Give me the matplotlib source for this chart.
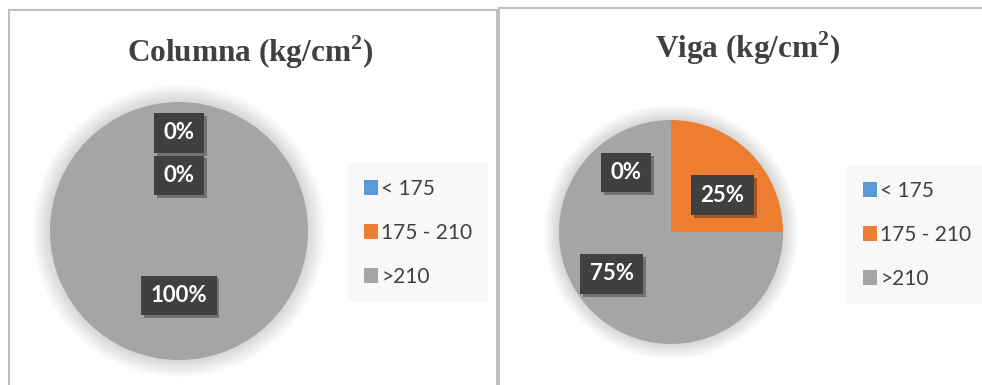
import matplotlib.pyplot as plt
from matplotlib.patches import Patch, Circle
from matplotlib.lines import Line2D
import matplotlib.patheffects as pe

plt.rcParams["mathtext.fontset"] = "custom"
plt.rcParams["mathtext.rm"] = "Liberation Serif:bold"

categories = ["< 175", "175 - 210", ">210"]
columna = [0, 0, 100]
viga = [0, 25, 75]
colors = ["#5B9BD5", "#ED7D31", "#A5A5A5"]
titles = [r"Columna (kg/cm$^2$)", r"Viga (kg/cm$^2$)"]

W, H = 982, 385
fig = plt.figure(figsize=(W / 100, H / 100), dpi=100)
fig.patch.set_facecolor("white")


def px_axes(cx, cy, r):
    # axes in pixel coords (top-left origin), square around pie
    return fig.add_axes([(cx - r) / W, 1 - (cy + r) / H, 2 * r / W, 2 * r / H])


def draw_pie(ax, values, label_pos):
    # soft shadow around the pie
    n = 20
    for i in range(n):
        ax.add_patch(Circle((0, 0), 1.0 + 0.007 * (n - i), color="black",
                            alpha=0.006, lw=0, clip_on=False, zorder=0))
    wedges, _ = ax.pie(values, colors=colors, startangle=90, counterclock=False,
                       radius=1, wedgeprops=dict(lw=0))
    for w in wedges:
        w.set_zorder(1)
    ax.set_xlim(-1, 1)
    ax.set_ylim(-1, 1)
    ax.set_aspect("equal")
    ax.axis("off")
    for v, (x, y) in zip(values, label_pos):
        t = ax.text(x, y, f"{v}%", ha="center", va="center", color="white",
                    fontsize=16, fontweight="bold", family="Lato", zorder=5,
                    bbox=dict(boxstyle="square,pad=0.42", fc="#404040", ec="none"))
        t.get_bbox_patch().set_path_effects(
            [pe.SimplePatchShadow(offset=(2, -2), alpha=0.35), pe.Normal()])


def draw_legend(x, y):
    handles = [Patch(facecolor=c, edgecolor="none") for c in colors]
    leg = fig.legend(handles, categories, loc="upper left",
                     bbox_to_anchor=(x / W, 1 - y / H), frameon=True,
                     fancybox=False, facecolor="#F8F8F8", edgecolor="none",
                     framealpha=1, handlelength=0.7, handleheight=0.7,
                     handletextpad=0.15, labelspacing=1.15, borderpad=0.75,
                     borderaxespad=0,
                     prop=dict(family="Lato", size=15), labelcolor="#404040")
    return leg


# panel borders
fig.add_artist(Line2D([9 / W, 9 / W], [0, 1 - 10 / H], color="#C0C0C0", lw=1.5))
fig.add_artist(Line2D([9 / W, 497 / W], [1 - 10 / H, 1 - 10 / H], color="#C0C0C0", lw=1.5))
fig.add_artist(Line2D([497 / W, 497 / W], [0, 1 - 10 / H], color="#C0C0C0", lw=1.5))
fig.add_artist(Line2D([499 / W, 499 / W], [0, 1 - 8 / H], color="#C0C0C0", lw=1.5))
fig.add_artist(Line2D([499 / W, 1], [1 - 8 / H, 1 - 8 / H], color="#C0C0C0", lw=1.5))

# titles
fig.text(250 / W, 1 - 52 / H, titles[0], ha="center", va="center",
         fontsize=22.5, fontweight="bold", family="Liberation Serif", color="#404040")
fig.text(748 / W, 1 - 48 / H, titles[1], ha="center", va="center",
         fontsize=22.5, fontweight="bold", family="Liberation Serif", color="#404040")

ax1 = px_axes(179, 231, 129)
draw_pie(ax1, columna, [(0, 0.76), (0, 0.43), (0, -0.5)])

ax2 = px_axes(671, 232, 112)
draw_pie(ax2, viga, [(-0.40, 0.53), (0.46, 0.33), (-0.53, -0.375)])

draw_legend(348, 163)
draw_legend(847, 165)

fig.savefig("out.png", dpi=100, facecolor="white")
